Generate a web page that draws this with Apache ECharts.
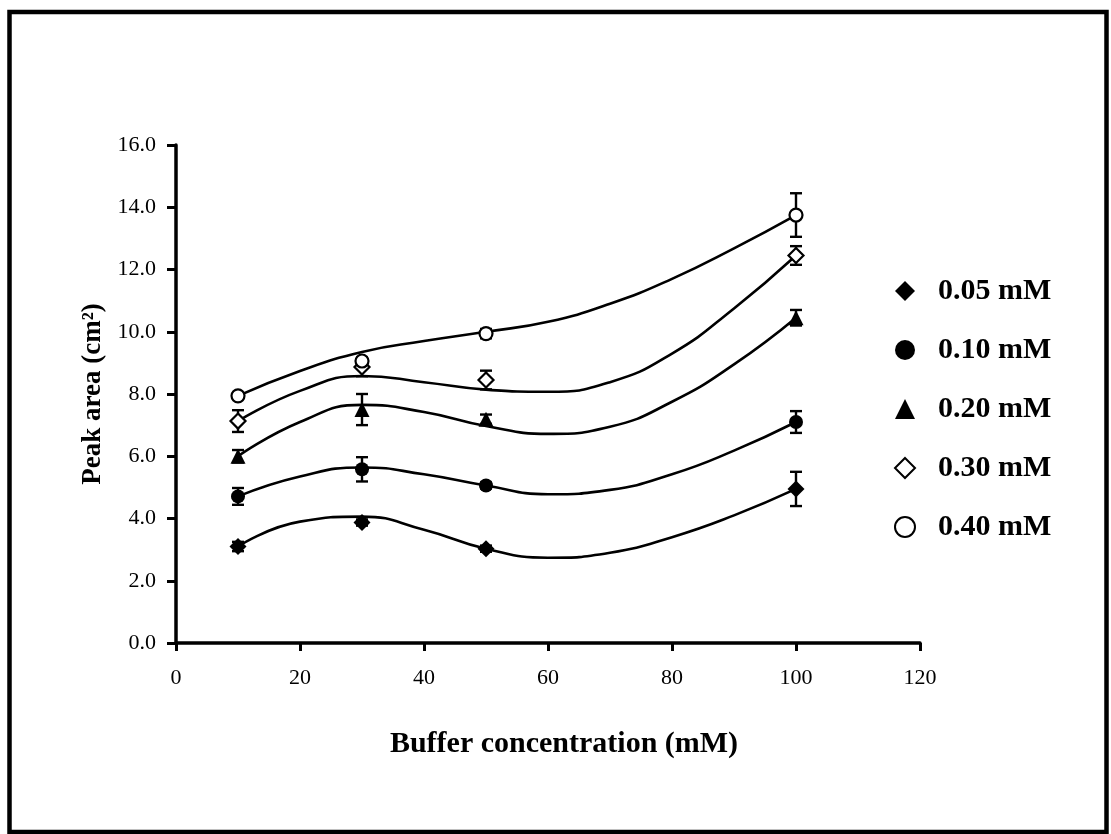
<!DOCTYPE html>
<html>
<head>
<meta charset="utf-8">
<title>Peak area vs buffer concentration</title>
<script src="https://cdn.jsdelivr.net/npm/echarts@6/dist/echarts.min.js"></script>
<style>
  html, body { margin: 0; padding: 0; background: #fff; }
  #chart { width: 1111px; height: 834px; }
</style>
</head>
<body>
<div id="chart"></div>
<script>
// Buffer concentrations (mM) at which peak areas were measured
const bufferConc = [10, 30, 50, 100];

// Series names (analyte concentration)
const seriesNames = ['0.05 mM', '0.10 mM', '0.20 mM', '0.30 mM', '0.40 mM'];

// Mean peak areas (cm²)
const area005 = [3.10, 3.87, 3.03, 4.95];
const area010 = [4.71, 5.58, 5.06, 7.10];
const area020 = [6.00, 7.50, 7.19, 10.45];
const area030 = [7.13, 8.87, 8.45, 12.45];
const area040 = [7.94, 9.06, 9.94, 13.75];

// Standard deviations (cm²)
const sd005 = [0.15, 0.10, 0.10, 0.55];
const sd010 = [0.27, 0.39, 0.10, 0.35];
const sd020 = [0.20, 0.50, 0.15, 0.25];
const sd030 = [0.35, 0.30, 0.30, 0.30];
const sd040 = [0.10, 0.10, 0.15, 0.70];

// Trend curves, read at regular buffer concentrations
const trendX = [10, 20, 30, 40, 50, 60, 70, 80, 90, 100];
const trend005 = [3.10, 3.90, 4.06, 3.64, 3.03, 2.74, 2.90, 3.40, 4.10, 4.95];
const trend010 = [4.71, 5.35, 5.64, 5.42, 5.06, 4.78, 4.92, 5.42, 6.18, 7.10];
const trend020 = [6.00, 7.10, 7.65, 7.42, 6.97, 6.72, 6.95, 7.75, 8.95, 10.45];
const trend030 = [7.13, 8.10, 8.58, 8.38, 8.14, 8.07, 8.38, 9.30, 10.75, 12.45];
const trend040 = [7.94, 8.74, 9.35, 9.70, 10.00, 10.32, 10.90, 11.70, 12.68, 13.75];

// Axis ticks
const xTicks = { min: 0, max: 120, step: 20 };
const yTicks = { min: 0, max: 16, step: 2 };

const FONT = "'Liberation Serif', 'Times New Roman', serif";

const means = [area005, area010, area020, area030, area040];
const sds = [sd005, sd010, sd020, sd030, sd040];
const trends = [trend005, trend010, trend020, trend030, trend040];

// Marker look for each series: filled diamond, filled circle, filled triangle,
// open diamond, open circle
const markers = [
  { symbol: 'diamond',  size: 17, fill: '#000' },
  { symbol: 'circle',   size: 14, fill: '#000' },
  { symbol: 'triangle', size: 15, fill: '#000' },
  { symbol: 'diamond',  size: 15, fill: '#fff' },
  { symbol: 'circle',   size: 13, fill: '#fff' }
];

const series = [];

// Smooth trend curves (drawn underneath the markers)
trends.forEach((t, i) => {
  series.push({
    name: seriesNames[i] + ' trend',
    type: 'line',
    data: trendX.map((x, k) => [x, t[k]]),
    smooth: 0.5,
    showSymbol: false,
    symbol: 'none',
    lineStyle: { color: '#000', width: 2.6 },
    z: 2,
    silent: true
  });
});

// Error bars with caps
sds.forEach((sd, i) => {
  series.push({
    name: seriesNames[i] + ' sd',
    type: 'custom',
    data: bufferConc.map((x, k) => [x, means[i][k] - sd[k], means[i][k] + sd[k]]),
    encode: { x: 0, y: [1, 2] },
    z: 3,
    silent: true,
    renderItem: function (params, api) {
      const x = api.value(0);
      const lo = api.coord([x, api.value(1)]);
      const hi = api.coord([x, api.value(2)]);
      const cap = 6;
      const st = { stroke: '#000', lineWidth: 2.4 };
      return {
        type: 'group',
        children: [
          { type: 'line', shape: { x1: lo[0], y1: lo[1], x2: hi[0], y2: hi[1] }, style: st },
          { type: 'line', shape: { x1: lo[0] - cap, y1: lo[1], x2: lo[0] + cap, y2: lo[1] }, style: st },
          { type: 'line', shape: { x1: hi[0] - cap, y1: hi[1], x2: hi[0] + cap, y2: hi[1] }, style: st }
        ]
      };
    }
  });
});

// Measured points
means.forEach((m, i) => {
  const mk = markers[i];
  series.push({
    name: seriesNames[i],
    type: 'scatter',
    data: bufferConc.map((x, k) => [x, m[k]]),
    symbol: mk.symbol,
    symbolSize: mk.size,
    itemStyle: { color: mk.fill, borderColor: '#000', borderWidth: mk.fill === '#fff' ? 2.2 : 0, opacity: 1 },
    z: 4
  });
});

const chart = echarts.init(document.getElementById('chart'), null, { renderer: 'canvas' });

chart.setOption({
  backgroundColor: '#fff',
  animation: false,
  grid: { left: 176, right: 191, top: 145, bottom: 191, containLabel: false },
  xAxis: {
    type: 'value',
    min: xTicks.min,
    max: xTicks.max,
    interval: xTicks.step,
    name: 'Buffer concentration (mM)',
    nameLocation: 'middle',
    nameGap: 86,
    nameTextStyle: { fontFamily: FONT, fontSize: 30, fontWeight: 'bold', color: '#000', padding: [0, 0, 0, 32] },
    axisLine: { show: true, onZero: false, lineStyle: { color: '#000', width: 3.5 } },
    axisTick: { show: true, inside: false, length: 8, lineStyle: { color: '#000', width: 3 } },
    axisLabel: { margin: 24, fontFamily: FONT, fontSize: 22, color: '#000' },
    splitLine: { show: false }
  },
  yAxis: {
    type: 'value',
    min: yTicks.min,
    max: yTicks.max,
    interval: yTicks.step,
    name: 'Peak area (cm²)',
    nameLocation: 'middle',
    nameGap: 48,
    nameRotate: 90,
    nameTextStyle: { fontFamily: FONT, fontSize: 27, fontWeight: 'bold', color: '#000' },
    axisLine: { show: true, onZero: false, lineStyle: { color: '#000', width: 3.5 } },
    axisTick: { show: true, inside: false, length: 9, lineStyle: { color: '#000', width: 3 } },
    axisLabel: {
      margin: 20, fontFamily: FONT, fontSize: 22, color: '#000',
      formatter: v => v.toFixed(1)
    },
    splitLine: { show: false }
  },
  legend: {
    data: seriesNames,
    orient: 'vertical',
    left: 889,
    top: 271,
    itemWidth: 20,
    itemHeight: 20,
    itemGap: 29,
    selectedMode: false,
    textStyle: { fontFamily: FONT, fontSize: 30, fontWeight: 'bold', color: '#000', lineHeight: 30, padding: [0, 0, 0, 18] }
  },
  graphic: [
    {
      type: 'rect',
      shape: { x: 9.5, y: 12, width: 1097, height: 820 },
      style: { fill: 'none', stroke: '#000', lineWidth: 4.5 },
      silent: true,
      z: 100
    }
  ],
  series: series
});
</script>
</body>
</html>
